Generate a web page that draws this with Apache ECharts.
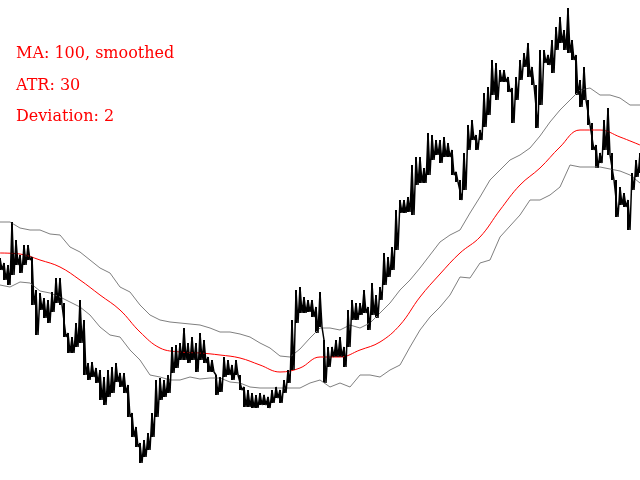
<!DOCTYPE html>
<html><head><meta charset="utf-8">
<script src="https://cdn.jsdelivr.net/npm/echarts@6/dist/echarts.min.js"></script>
<style>html,body{margin:0;padding:0;background:#fff}#c{width:640px;height:480px}</style>
</head><body><div id="c"></div>
<script>
// Bar index runs 0..640; the value axis is drawn top-down (inverse), readings as on the picture.
const PRICE_STEP = 4, BAND_STEP = 10, MA_STEP = 20;

const priceTop = [258,263,265,222,240,255,245,245,257,290,293,298,300,292,278,278,303,333,337,323,
  300,320,363,362,368,370,377,370,367,363,373,373,385,413,427,443,440,433,413,380,
  378,380,375,347,345,343,328,343,337,343,333,340,357,360,375,377,357,360,365,360,
  375,387,390,393,395,393,395,397,390,387,390,380,370,320,290,287,297,300,300,307,
  292,340,347,347,340,337,347,310,300,303,303,290,307,283,295,287,253,257,247,210,
  200,200,197,165,157,157,168,133,135,140,140,137,143,150,172,180,153,125,120,135,
  130,93,87,60,63,70,70,77,88,77,60,53,43,67,85,50,50,55,40,27,
  17,30,8,40,55,80,67,100,123,145,153,120,108,153,180,187,193,200,173,160,153];
const priceBottom = [270,280,285,275,265,273,265,260,305,335,310,318,323,312,303,305,337,353,353,347,
  343,375,380,377,383,400,405,397,393,382,387,393,417,437,447,463,457,450,437,417,
  400,397,393,373,368,360,360,363,360,372,360,363,372,372,395,392,377,375,380,375,
  390,407,407,408,408,405,405,408,403,398,403,393,383,370,323,313,313,312,317,333,
  327,383,367,357,357,357,367,347,320,320,315,313,330,315,318,300,285,277,270,250,
  213,213,212,215,185,183,183,175,160,155,163,157,157,175,182,200,190,150,140,150,
  140,127,115,95,100,82,82,92,123,100,80,67,77,85,128,105,63,65,73,50,
  43,50,53,60,95,107,100,125,150,168,163,150,155,180,217,205,207,230,190,177,173];

const maLine = [253,254,260,267,280,295,310,332,348,352,353,355,358,365,372,368,357,357,350,342,
  325,297,274,253,237,210,185,168,147,130,130,137,145];
const upperBand = [222,222,228,230,230,234,235,247,252,260,268,273,287,292,305,315,320,322,323,324,
  325,328,332,332,334,337,343,348,356,357,349,338,328,328,330,325,328,323,313,303,
  290,280,268,255,242,235,230,213,197,180,170,160,155,148,136,122,110,100,90,88,
  95,95,98,105,105];
const lowerBand = [285,287,282,283,291,293,297,302,307,315,327,335,337,350,360,375,377,380,380,377,
  379,378,378,382,383,387,388,388,388,388,388,383,380,387,383,387,375,375,377,370,
  365,347,330,317,307,295,277,278,263,260,237,226,215,200,200,195,187,165,167,167,
  167,169,171,175,183];

const labels = ["MA: 100, smoothed", "ATR: 30", "Deviation: 2"];

const priceData = [];
priceTop.forEach((t, i) => {
  priceData.push([i * PRICE_STEP, t]);
  priceData.push([i * PRICE_STEP + PRICE_STEP / 2, priceBottom[i]]);
});
const rangeData = priceTop.map((t, i) => [i * PRICE_STEP, t, priceBottom[i]]);
const toXY = (arr, step) => arr.map((v, i) => [i * step, v]);

const chart = echarts.init(document.getElementById('c'), null, {renderer: 'canvas'});
chart.setOption({
  animation: false,
  backgroundColor: '#ffffff',
  grid: {left: 0, right: 0, top: 0, bottom: 0},
  xAxis: {type: 'value', min: 0, max: 640, show: false},
  yAxis: {type: 'value', min: 0, max: 480, inverse: true, show: false},
  graphic: labels.map((t, i) => ({
    type: 'text', left: 16, top: 46 + i * 31.5,
    style: {text: t, fill: '#ff0000', font: '16px "DejaVu Serif"'}
  })),
  series: [
    {type: 'line', data: toXY(upperBand, BAND_STEP), symbol: 'none', silent: true,
      lineStyle: {color: '#808080', width: 1}},
    {type: 'line', data: toXY(lowerBand, BAND_STEP), symbol: 'none', silent: true,
      lineStyle: {color: '#808080', width: 1}},
    {type: 'line', data: toXY(maLine, MA_STEP), symbol: 'none', smooth: 0.4, silent: true,
      lineStyle: {color: '#ff0000', width: 1}},
    {type: 'custom', data: rangeData, silent: true,
      renderItem: (params, api) => {
        const a = api.coord([api.value(0), api.value(1)]);
        const b = api.coord([api.value(0), api.value(2)]);
        return {type: 'line', shape: {x1: a[0], y1: a[1], x2: b[0], y2: b[1]},
          style: {stroke: '#000000', lineWidth: 2}};
      }},
    {type: 'line', data: priceData, symbol: 'none', silent: true,
      lineStyle: {color: '#000000', width: 1.5}}
  ]
});
</script>
</body></html>
